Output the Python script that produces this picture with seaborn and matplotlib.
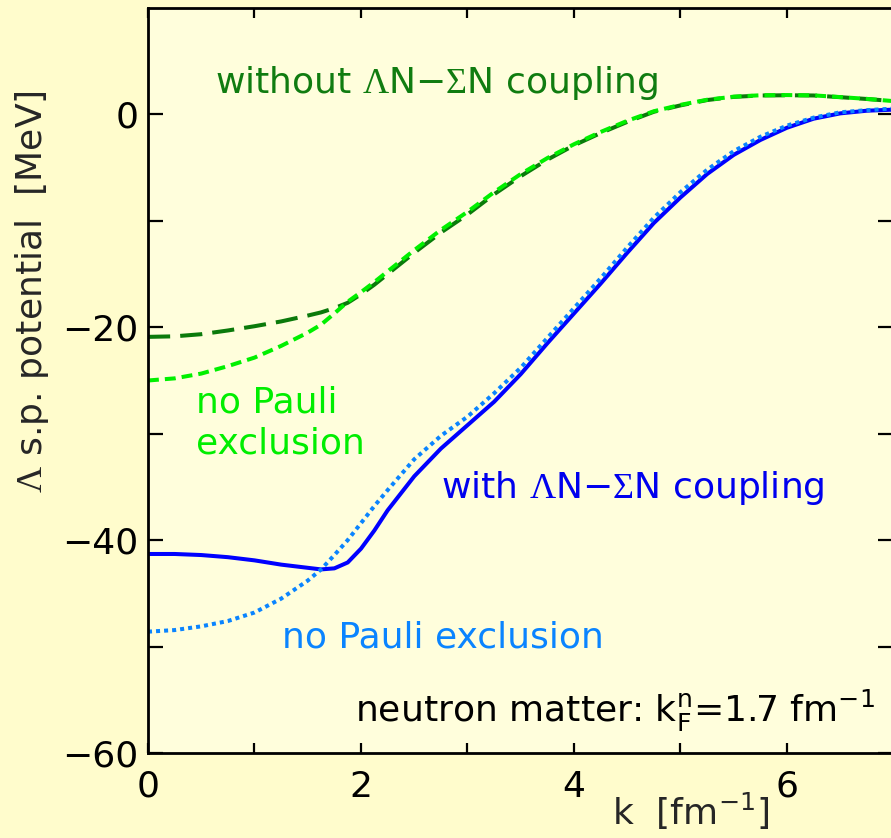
import matplotlib
matplotlib.use("Agg")
import matplotlib.pyplot as plt
import seaborn as sns

# Lambda single-particle potential in neutron matter (k_F = 1.7 fm^-1)
k = [0.0, 0.25, 0.5, 0.75, 1.0, 1.25, 1.5, 1.625, 1.75, 1.875, 2.0, 2.125, 2.25,
     2.5, 2.75, 3.0, 3.25, 3.5, 3.75, 4.0, 4.25, 4.5, 4.75, 5.0, 5.25, 5.5,
     5.75, 6.0, 6.25, 6.5, 6.75, 7.0]

# without Lambda N - Sigma N coupling
u_uncoupled = [-20.9, -20.85, -20.65, -20.3, -19.9, -19.45, -18.9, -18.6, -18.2,
               -17.7, -16.9, -16.0, -15.0, -13.0, -11.1, -9.4, -7.5, -5.8, -4.25,
               -2.9, -1.75, -0.7, 0.25, 0.85, 1.35, 1.65, 1.78, 1.8, 1.78, 1.62,
               1.45, 1.25]
u_uncoupled_nopauli = [-25.0, -24.8, -24.35, -23.65, -22.85, -21.75, -20.5, -19.75,
                       -18.7, -17.6, -16.7, -15.75, -14.75, -12.75, -10.85, -9.15,
                       -7.3, -5.6, -4.1, -2.8, -1.65, -0.6, 0.3, 0.9, 1.38, 1.67,
                       1.8, 1.82, 1.79, 1.63, 1.46, 1.25]

# with Lambda N - Sigma N coupling
u_coupled = [-41.3, -41.3, -41.4, -41.6, -41.9, -42.3, -42.6, -42.75, -42.65, -42.1,
             -40.8, -39.1, -37.2, -34.0, -31.4, -29.2, -27.0, -24.4, -21.5, -18.7,
             -15.9, -13.0, -10.2, -7.8, -5.6, -3.8, -2.4, -1.25, -0.4, 0.1, 0.35,
             0.45]
u_coupled_nopauli = [-48.6, -48.45, -48.1, -47.6, -46.8, -45.5, -43.8, -42.75, -41.4,
                     -40.0, -38.4, -36.8, -35.3, -32.4, -30.2, -28.4, -26.2, -23.8,
                     -21.0, -18.2, -15.4, -12.5, -9.7, -7.3, -5.2, -3.45, -2.1, -1.05,
                     -0.3, 0.2, 0.4, 0.55]

x_major = [0, 2, 4, 6]
x_minor = [1, 3, 5]
y_major = [-60, -40, -20, 0]
y_minor = [-50, -30, -10]

DARK_GREEN = "#0B7A0B"
LIGHT_GREEN = "#00F000"
BLUE = "#0000FF"
LIGHT_BLUE = "#0A84FF"

sns.set_style("ticks")
plt.rcParams.update({
    "font.family": ["DejaVu Sans"],
    "mathtext.fontset": "custom",
    "mathtext.rm": "Liberation Serif",
    "mathtext.sf": "DejaVu Sans",
    "mathtext.it": "DejaVu Sans:italic",
    "mathtext.bf": "DejaVu Sans:bold",
})

fig = plt.figure(figsize=(8.91, 8.38), dpi=100, facecolor="#FFFCCC")
ax = fig.add_axes([148 / 891, 85 / 838, 745.5 / 891, 745 / 838])
ax.set_facecolor("#FFFEDC")

lw = 2.9
sns.lineplot(x=k, y=u_uncoupled, ax=ax, color=DARK_GREEN, lw=lw,
             linestyle=(0, (5.5, 2.5)), estimator=None, sort=False)
sns.lineplot(x=k, y=u_uncoupled_nopauli, ax=ax, color=LIGHT_GREEN, lw=lw,
             linestyle=(0, (2.7, 1.5)), estimator=None, sort=False)
sns.lineplot(x=k, y=u_coupled, ax=ax, color=BLUE, lw=lw,
             linestyle="-", estimator=None, sort=False)
sns.lineplot(x=k, y=u_coupled_nopauli, ax=ax, color=LIGHT_BLUE, lw=lw,
             linestyle=(0, (1, 1)), estimator=None, sort=False)

ax.set_xlim(0, 7)
ax.set_ylim(-60, 10)
ax.set_xticks(x_major)
ax.set_xticks(x_minor, minor=True)
ax.set_yticks(y_major)
ax.set_yticks(y_minor, minor=True)

ax.tick_params(which="both", direction="in", top=True, right=True,
               width=1.6, color="black", labelcolor="black")
ax.tick_params(axis="x", which="both", length=7.2, pad=12, labelsize=26)
ax.tick_params(axis="y", which="both", length=10.8, pad=7, labelsize=26)
for sp in ax.spines.values():
    sp.set_linewidth(2.0)
    sp.set_color("black")

ax.set_xlabel(r"k  [fm$^{\mathsf{-1}}$]", fontsize=26, ha="left", va="baseline")
ax.xaxis.set_label_coords((612 - 148) / 745.5, (753 - 825) / 745)
ax.set_ylabel(r"$\Lambda$ s.p. potential  [MeV]", fontsize=26,
              ha="center", va="center")
ax.yaxis.set_label_coords((32 - 148) / 745.5, (753 - 292) / 745)

fs = 26
ax.text(0.63, 1.97, r"without $\Lambda$N−$\Sigma$N coupling", color="#107C10",
        fontsize=fs, ha="left", va="baseline")
ax.text(0.45, -28.0, "no Pauli", color="#00EE00", fontsize=fs,
        ha="left", va="baseline")
ax.text(0.45, -31.9, "exclusion", color="#00EE00", fontsize=fs,
        ha="left", va="baseline")
ax.text(2.75, -36.05, r"with $\Lambda$N−$\Sigma$N coupling", color="#0000EE",
        fontsize=fs, ha="left", va="baseline")
ax.text(1.257, -50.05, "no Pauli exclusion", color=LIGHT_BLUE, fontsize=fs,
        ha="left", va="baseline")
ax.text(1.94, -57.1,
        r"neutron matter: k$_{\mathsf{F}}^{\mathsf{n}}$=1.7 fm$^{\mathsf{-1}}$",
        color="black", fontsize=fs, ha="left", va="baseline")

fig.savefig("out.png", dpi=100, facecolor=fig.get_facecolor())
